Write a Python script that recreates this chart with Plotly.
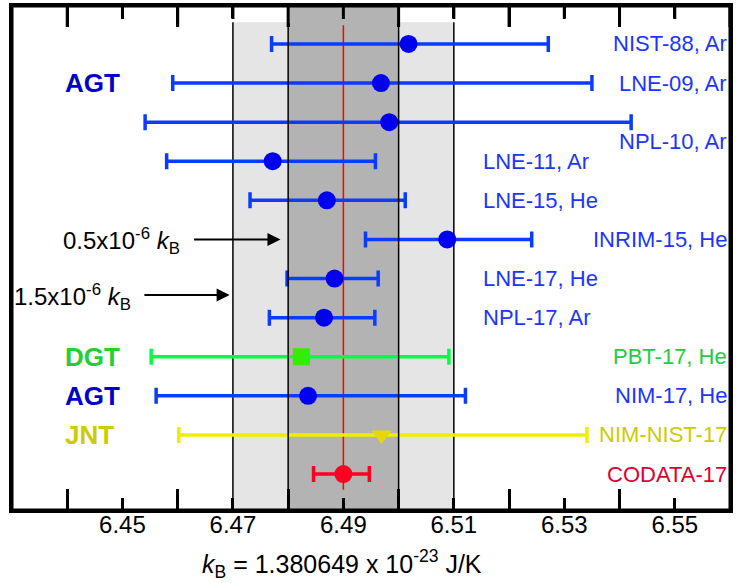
import plotly.graph_objects as go

# ---------------- data ----------------
labels = ["NIST-88, Ar", "LNE-09, Ar", "NPL-10, Ar", "LNE-11, Ar", "LNE-15, He",
          "INRIM-15, He", "LNE-17, He", "NPL-17, Ar", "PBT-17, He", "NIM-17, He",
          "NIM-NIST-17", "CODATA-17"]
methods = ["AGT", "AGT", "AGT", "AGT", "AGT", "AGT", "AGT", "AGT", "DGT", "AGT", "JNT", "CODATA"]
values = [6.5018, 6.4968, 6.4983, 6.4772, 6.4870, 6.5088, 6.4884, 6.4865,
          6.4824, 6.4836, 6.4969, 6.4900]
lower = [6.4770, 6.4591, 6.4541, 6.4580, 6.4731, 6.4940, 6.4798, 6.4766,
         6.4552, 6.4561, 6.4602, 6.4846]
upper = [6.5271, 6.5350, 6.5421, 6.4958, 6.5012, 6.5241, 6.4963, 6.4957,
         6.5091, 6.5121, 6.5341, 6.4947]
rows = list(range(1, len(labels) + 1))

band_outer = [6.47, 6.51]   # 1.5x10^-6 kB
band_inner = [6.48, 6.50]   # 0.5x10^-6 kB
tick_labels = [6.45, 6.47, 6.49, 6.51, 6.53, 6.55]
tick_long = [6.44, 6.46, 6.48, 6.50, 6.52, 6.54, 6.56]

FONT = "Liberation Sans, Arial, sans-serif"
PLOT_H = 583 - 6 - 73

styles = {
    "AGT": dict(line="#0A3CFF", marker="#0000F0", symbol="circle", size=18, text="#1A35FF", group="#0000CC"),
    "DGT": dict(line="#00FF40", marker="#33EE00", symbol="square", size=17, text="#22CC44", group="#22D033"),
    "JNT": dict(line="#EEEE00", marker="#E6D800", symbol="triangle-down", size=18, text="#CCCC00", group="#CCCC00"),
    "CODATA": dict(line="#FF0022", marker="#FF0022", symbol="circle", size=18, text="#DD0033", group="#DD0033"),
}

fig = go.Figure()

for m, st in styles.items():
    idx = [i for i, mm in enumerate(methods) if mm == m]
    xs = [values[i] for i in idx]
    ys = [rows[i] for i in idx]
    plus = [upper[i] - values[i] for i in idx]
    minus = [values[i] - lower[i] for i in idx]
    fig.add_trace(go.Scatter(
        x=xs, y=ys, mode="markers",
        marker=dict(color=st["marker"], symbol=st["symbol"], size=st["size"]),
        error_x=dict(type="data", symmetric=False, array=plus, arrayminus=minus,
                     color=st["line"], thickness=3.5, width=8),
        showlegend=False,
    ))

TOP = 0.968
shapes = []
shapes.append(dict(type="rect", xref="x", yref="paper", x0=band_outer[0], x1=band_outer[1],
                   y0=0, y1=TOP, fillcolor="#E5E5E5", line=dict(width=0), layer="below"))
shapes.append(dict(type="rect", xref="x", yref="paper", x0=band_inner[0], x1=band_inner[1],
                   y0=0, y1=TOP, fillcolor="#B3B3B3", line=dict(width=0), layer="below"))
shapes.append(dict(type="rect", xref="x", yref="paper", x0=band_inner[0], x1=band_inner[1],
                   y0=TOP - 0.002, y1=1, fillcolor="#B3B3B3", line=dict(width=0), layer="above"))
for xv in band_outer:
    shapes.append(dict(type="line", xref="x", yref="paper", x0=xv, x1=xv, y0=0, y1=TOP,
                       line=dict(color="black", width=1.5), layer="below"))
for xv in band_inner:
    shapes.append(dict(type="line", xref="x", yref="paper", x0=xv, x1=xv, y0=0, y1=1,
                       line=dict(color="black", width=1.5), layer="above"))
shapes.append(dict(type="line", xref="x", yref="paper", x0=values[-1], x1=values[-1], y0=0.04, y1=0.962,
                   line=dict(color="#FF0000", width=1.5), layer="below"))
for tv in tick_labels:
    shapes.append(dict(type="line", xref="x", yref="paper", x0=tv, x1=tv, y0=1, y1=1 - 13 / PLOT_H,
                       line=dict(color="black", width=3), layer="above"))
for tv in tick_long:
    shapes.append(dict(type="line", xref="x", yref="paper", x0=tv, x1=tv, y0=1, y1=1 - 21 / PLOT_H,
                       line=dict(color="black", width=3), layer="above"))
shapes.append(dict(type="rect", xref="paper", yref="paper", x0=0, x1=1, y0=0, y1=1,
                   line=dict(color="black", width=3), fillcolor="rgba(0,0,0,0)", layer="above"))

annotations = []
label_place = {
    "NIST-88, Ar": ("right", 6.5598, 1.0),
    "LNE-09, Ar": ("right", 6.5598, 2.0),
    "NPL-10, Ar": ("right", 6.5598, 3.5),
    "LNE-11, Ar": ("left", 6.5149, 4.0),
    "LNE-15, He": ("left", 6.5149, 5.0),
    "INRIM-15, He": ("right", 6.5598, 6.0),
    "LNE-17, He": ("left", 6.5149, 7.0),
    "NPL-17, Ar": ("left", 6.5149, 8.0),
    "PBT-17, He": ("right", 6.5598, 9.0),
    "NIM-17, He": ("right", 6.5598, 10.0),
    "NIM-NIST-17": ("right", 6.5598, 11.0),
    "CODATA-17": ("right", 6.5598, 12.0),
}
for lab, m in zip(labels, methods):
    anc, xv, yv = label_place[lab]
    annotations.append(dict(x=xv, y=yv, xref="x", yref="y", text=lab, showarrow=False,
                            xanchor=anc, yanchor="middle",
                            font=dict(family=FONT, size=22, color=styles[m]["text"])))

for txt, yv in [("AGT", 2.0), ("DGT", 9.0), ("AGT", 10.0), ("JNT", 11.0)]:
    annotations.append(dict(x=6.4392, y=yv, xref="x", yref="y", text="<b>" + txt + "</b>",
                            showarrow=False, xanchor="left", yanchor="middle",
                            font=dict(family=FONT, size=26, color=styles[txt]["group"])))

annotations.append(dict(x=6.4786, y=6.0, ax=6.4627, ay=6.0, xref="x", yref="y", axref="x", ayref="y",
                        text="", showarrow=True, arrowhead=2, arrowsize=1.3, arrowwidth=2, arrowcolor="black"))
annotations.append(dict(x=6.4694, y=7.42, ax=6.4537, ay=7.42, xref="x", yref="y", axref="x", ayref="y",
                        text="", showarrow=True, arrowhead=2, arrowsize=1.3, arrowwidth=2, arrowcolor="black"))
annotations.append(dict(x=6.4607, y=6.05, xref="x", yref="y", xanchor="right", yanchor="middle",
                        text="0.5x10<sup>-6</sup> <i>k</i><sub>B</sub>", showarrow=False,
                        font=dict(family=FONT, size=24, color="black")))
annotations.append(dict(x=6.4519, y=7.47, xref="x", yref="y", xanchor="right", yanchor="middle",
                        text="1.5x10<sup>-6</sup> <i>k</i><sub>B</sub>", showarrow=False,
                        font=dict(family=FONT, size=24, color="black")))

annotations.append(dict(x=6.4897, y=-0.108, xref="x", yref="paper", xanchor="center", yanchor="middle",
                        text="<i>k</i><sub>B</sub> = 1.380649 x 10<sup>-23</sup> J/K", showarrow=False,
                        font=dict(family=FONT, size=25, color="black")))

xrange = [6.43, 6.56]
fig.update_layout(
    width=736, height=583,
    margin=dict(l=12, r=3, t=6, b=73),
    paper_bgcolor="rgba(0,0,0,0)", plot_bgcolor="rgba(0,0,0,0)",
    shapes=shapes, annotations=annotations,
    xaxis=dict(range=xrange, showgrid=False, zeroline=False,
               showline=True, linewidth=3, linecolor="black", mirror="ticks",
               tickvals=tick_labels, ticktext=[f"{v:.2f}" for v in tick_labels],
               ticks="inside", ticklen=12, tickwidth=3, tickcolor="black",
               ticklabelstandoff=-9,
               tickfont=dict(family=FONT, size=24, color="black"),
               minor=dict(tickmode="array", tickvals=tick_long, ticks="inside", ticklen=21,
                          tickwidth=3, tickcolor="black")),
    yaxis=dict(range=[12.92, 0.03], showgrid=False, zeroline=False, showticklabels=False,
               showline=True, linewidth=3, linecolor="black", mirror=True),
)

fig.write_html("out.html", config={"displayModeBar": False},
               post_script="document.body.style.margin='0';document.body.style.overflow='hidden';document.body.style.background='white';")
